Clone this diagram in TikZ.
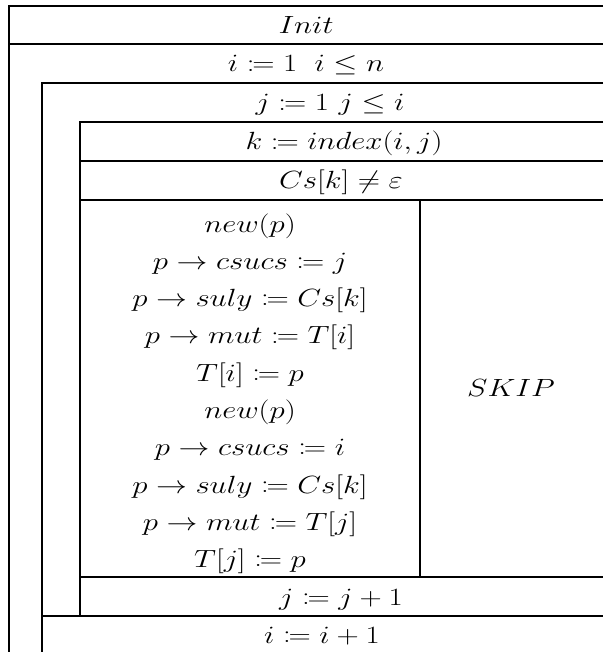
\documentclass[tikz,border=0pt]{standalone}
\usepackage{graphicx}
\usepackage{amsmath}
\usepackage{amssymb}
\usepackage{mathtools}
\newcommand{\wm}[1]{\scalebox{1.24}[1]{$#1$}}
\tikzset{
  sline/.style={line width=1.4pt},
  stext/.style={font=\fontsize{26}{30}\selectfont, anchor=base, inner sep=0pt}
}

\begin{document}
\begin{tikzpicture}[x=1pt,y=-1pt]
            \useasboundingbox (0,0) rectangle (603,652);
            % outer loop and init
            \draw[sline] (603,6) -- (9,6) -- (9,652);
            \draw[sline] (9,44) -- (603,44);
            % inner loop
            \draw[sline] (603,83) -- (42,83) -- (42,652);
            \draw[sline] (42,616) -- (603,616);
            % loop body
            \draw[sline] (603,122) -- (80,122) -- (80,616);
            \draw[sline] (80,161) -- (603,161);
            \draw[sline] (80,200) -- (603,200);
            \draw[sline] (80,577) -- (603,577);
            \draw[sline] (420,200) -- (420,577);
            \node[stext] (init) at (306,34) {\wm{Init}};
            \node[stext] (iloop) at (306,72) {\wm{i \coloneqq 1\;\; i \leq n}};
            \node[stext] (jloop) at (330,111) {\wm{j \coloneqq 1\ j \leq i}};
            \node[stext] (kidx) at (344,150) {\wm{k \coloneqq index(i,j)}};
            \node[stext] (cond) at (341,189) {\wm{Cs[k] \neq \varepsilon}};
            \foreach \t [count=\n] in {new(p), p \rightarrow csucs \coloneqq j,
                p \rightarrow suly \coloneqq Cs[k], p \rightarrow mut \coloneqq T[i],
                T[i] \coloneqq p, new(p), p \rightarrow csucs \coloneqq i,
                p \rightarrow suly \coloneqq Cs[k], p \rightarrow mut \coloneqq T[j],
                T[j] \coloneqq p}
              \node[stext] (b\n) at (250,{232+37.3*(\n-1)}) {\wm{\t}};
            \node[stext] (skip) at (511,396) {\wm{SKIP}};
            \node[stext] (jinc) at (341,605) {\wm{j \coloneqq j+1}};
            \node[stext] (iinc) at (322,643) {\wm{i \coloneqq i+1}};
        \end{tikzpicture}
\end{document}
